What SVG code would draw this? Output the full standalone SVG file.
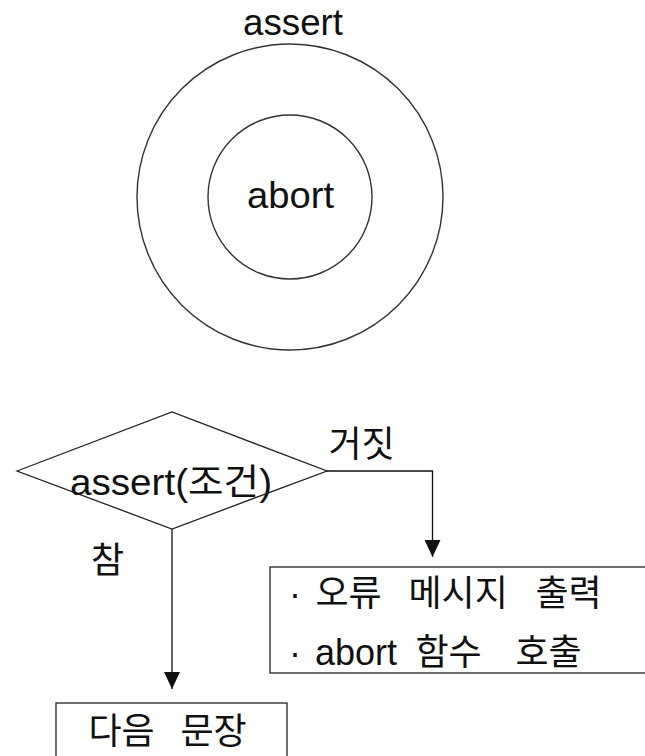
<svg xmlns="http://www.w3.org/2000/svg" width="645" height="756" viewBox="0 0 645 756">
  <style>
    .shape { fill: #fff; stroke: #222; stroke-width: 1.3; }
    .ring { fill: none; stroke: #333; stroke-width: 1.4; }
    .line { fill: none; stroke: #111; stroke-width: 1.3; }
    text { font-family: "Liberation Sans", "Noto Sans CJK KR", sans-serif; fill: #111; font-size: 36px; }
    .ko { font-family: "Noto Sans CJK KR", "Liberation Sans", sans-serif; font-size: 36px; }
  </style>
  <defs>
    <marker id="arrow" viewBox="0 0 17 16" refX="17" refY="8" markerWidth="17" markerHeight="16" markerUnits="userSpaceOnUse" orient="auto">
      <path d="M0,0 L17,8 L0,16 z" fill="#111"/>
    </marker>
  </defs>
  <rect width="645" height="756" fill="#fff"/>

  <g id="assert-scope">
    <circle class="ring" cx="290" cy="197" r="153"/>
    <text x="293" y="35" text-anchor="middle" textLength="100" lengthAdjust="spacingAndGlyphs">assert</text>
  </g>
  <g id="abort-scope">
    <circle class="ring" cx="290" cy="197" r="82"/>
    <text x="290.5" y="208" text-anchor="middle" textLength="87" lengthAdjust="spacingAndGlyphs">abort</text>
  </g>

  <g id="connectors">
    <polyline class="line" points="327,471 432.5,471 432.5,557" marker-end="url(#arrow)"/>
    <line class="line" x1="172" y1="529" x2="172" y2="689" marker-end="url(#arrow)"/>
    <text class="ko" x="328.5" y="457">거짓</text>
    <text class="ko" x="91" y="573">참</text>
  </g>

  <g id="decision">
    <polygon class="shape" points="17,471 172,412 327,471 172,529"/>
    <text x="70" y="495" textLength="202" lengthAdjust="spacingAndGlyphs">assert(조건)</text>
  </g>

  <g id="error-action">
    <rect class="shape" x="270" y="567" width="390" height="106"/>
    <text y="606"><tspan x="289">·</tspan><tspan class="ko" x="315.5">오류</tspan><tspan class="ko" x="408.5">메시지</tspan><tspan class="ko" x="535.5">출력</tspan></text>
    <text y="665"><tspan x="289">·</tspan><tspan x="315">abort</tspan><tspan class="ko" x="415.5">함수</tspan><tspan class="ko" x="515.5">호출</tspan></text>
  </g>

  <g id="next-statement">
    <rect class="shape" x="56" y="703" width="231" height="70"/>
    <text class="ko" y="744"><tspan x="88.5">다음</tspan><tspan x="180.5">문장</tspan></text>
  </g>
</svg>
